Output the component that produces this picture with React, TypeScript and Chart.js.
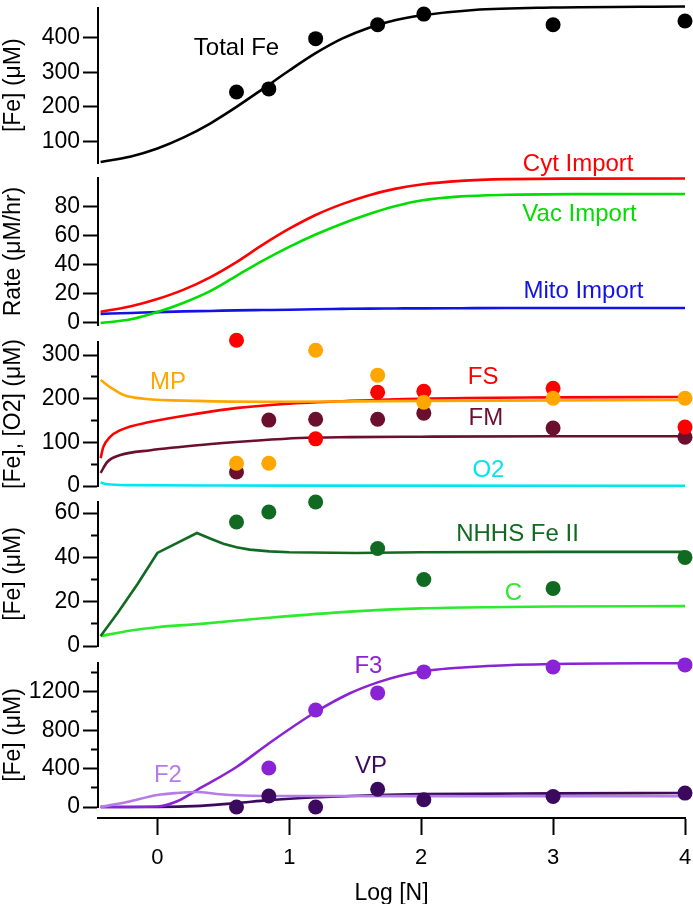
import React, { useEffect, useRef } from 'react';
import { Chart, registerables } from 'chart.js';

Chart.register(...registerables);

const FONT = "'Liberation Sans', Arial, Helvetica, sans-serif";
Chart.defaults.font.family = FONT;
Chart.defaults.color = '#000';

const W = 693;
const H = 904;
const X_MIN = -0.45;
const X_MAX = 4;
const PLOT_LEFT = 98;
const PLOT_RIGHT = 685;
const X_AXIS_Y = 818;

// x (Log [N]) of the measured samples
const ptX = [0.6, 0.845, 1.2, 1.67, 2.02, 3, 4];
const xTicks = [0, 1, 2, 3, 4];

// Panel 1 : Total Fe
const totalFeX = [-0.43, -0.2, 0, 0.2, 0.4, 0.6, 0.8, 1.0, 1.2, 1.4, 1.6, 1.8, 2.0, 2.4, 3.0, 4.0];
const totalFeY = [41, 57, 80, 112, 152, 200, 252, 305, 355, 397, 428, 450, 464, 480, 487, 490];
const totalFePts = [243, 252, 397, 437, 468, 437, 448];
const p1Major = [100, 200, 300, 400];

// Panel 2 : rates
const rateX = [-0.43, -0.2, 0, 0.2, 0.4, 0.6, 0.8, 1.0, 1.2, 1.4, 1.6, 1.8, 2.0, 2.3, 2.65, 3.15, 4];
const cytImport = [7.8, 11.5, 16.5, 23, 31.5, 42, 54, 65, 74.5, 82, 88, 92.5, 95.5, 98, 99.2, 99.6, 99.7];
const vacImport = [0, 2.5, 7.5, 14, 22, 32.5, 43, 52.5, 61, 68.5, 75, 80.5, 84.5, 87.3, 88.4, 88.9, 89];
const mitoImport = [6.3, 6.9, 7.5, 8.0, 8.3, 8.7, 8.9, 9.1, 9.5, 9.7, 9.9, 10.0, 10.1, 10.2, 10.3, 10.3, 10.3];
const p2Major = [0, 20, 40, 60, 80];

// Panel 3 : MP, FS, FM, O2
const mpX = [-0.43, -0.35, -0.25, -0.1, 0.3, 0.85, 1.5, 2, 3, 4];
const mpY = [243, 225, 208, 200, 195, 193, 194, 195, 196, 197];
const fsX = [-0.43, -0.41, -0.36, -0.28, -0.05, 0.33, 0.61, 0.96, 1.46, 2, 3, 4];
const fsY = [64, 89, 112, 128, 147, 167, 179, 188, 195, 200, 203, 204];
const fmX = [-0.43, -0.38, -0.28, -0.05, 0.33, 0.71, 1.08, 1.46, 2, 3, 4];
const fmY = [30, 55, 71, 82, 94, 103, 110, 112, 113, 114, 114];
const o2X = [-0.43, -0.38, -0.2, 0.5, 1, 4];
const o2Y = [8, 4, 2, 1, 0.8, 0.5];
const fsPts = [334, null, 108, 215, 217, 224, 135];
const fmPts = [32, 151, 153, 153, 167, 133, 112];
const mpPts = [52, 52, 311, 254, 192, 201, 201];
const p3Major = [0, 100, 200, 300];
const p3Minor = [50, 150, 250];

// Panel 4 : NHHS Fe II, C
const nhhsX = [-0.43, -0.3, -0.15, 0, 0.3, 0.4, 0.5, 0.6, 0.7, 0.85, 1.0, 1.5, 2, 3, 4];
const nhhsY = [4.5, 15, 28, 42, 51, 48.5, 46.2, 44.6, 43.5, 42.7, 42.3, 42, 42.3, 42.5, 42.5];
const cX = [-0.43, -0.2, 0, 0.33, 0.8, 1.46, 2, 2.65, 3, 4];
const cY = [4.5, 7, 8.5, 10, 12.5, 15.5, 17, 17.6, 17.8, 18];
const nhhsPts = [56, 60.5, 65, 44, 30, 26, 40];
const p4Major = [0, 20, 40, 60];
const p4Minor = [10, 30, 50];

// Panel 5 : F3, F2, VP
const f3X = [-0.43, 0, 0.15, 0.3, 0.6, 0.85, 1.2, 1.46, 1.67, 1.85, 2.03, 2.5, 3, 4];
const f3Y = [0, 5, 60, 177, 417, 668, 991, 1186, 1300, 1372, 1420, 1470, 1492, 1500];
const f2X = [-0.43, -0.23, 0, 0.15, 0.3, 0.45, 0.7, 1.1, 2, 3, 4];
const f2Y = [0, 52, 125, 146, 156, 136, 118, 115, 113, 112, 112];
const vpX = [-0.43, 0, 0.33, 0.6, 0.84, 1.2, 1.46, 1.67, 2, 3, 4];
const vpY = [0, 0, 12, 40, 72, 102, 115, 125, 134, 142, 146];
const f3Pts = [null, 407, 1012, 1190, 1409, 1461, 1482];
const vpPts = [0, 115, 0, 185, 75, 110, 145];
const p5Major = [0, 400, 800, 1200];
const p5Minor = [200, 600, 1000, 1400];

const C = {
  black: '#000000',
  red: '#ff0000',
  vac: '#00dd00',
  blue: '#1212e6',
  orange: '#ffa600',
  maroon: '#6b0f2e',
  cyan: '#00e6f0',
  dkgreen: '#116a22',
  ltgreen: '#2eea2e',
  purple: '#8a22d6',
  ltpurple: '#b47ce6',
  dkpurple: '#3b0a5e',
};

type Label = { text: string; x: number; y: number; color: string };

const toPts = (xs: number[], ys: (number | null)[]) =>
  xs.map((x, i) => ({ x, y: ys[i] })).filter((p) => p.y !== null);

const curve = (label: string, xs: number[], ys: number[], color: string, straight = false) => ({
  label,
  data: toPts(xs, ys),
  borderColor: color,
  backgroundColor: color,
  borderWidth: 2.6,
  pointRadius: 0,
  cubicInterpolationMode: straight ? 'default' : 'monotone',
  tension: 0,
  clip: false,
  order: 10,
});

const markers = (label: string, ys: (number | null)[], color: string, order = 0) => ({
  label,
  data: toPts(ptX, ys),
  showLine: false,
  pointRadius: 7.5,
  pointHoverRadius: 7.5,
  pointBackgroundColor: color,
  pointBorderWidth: 0,
  borderColor: color,
  backgroundColor: color,
  clip: false,
  order,
});

type Panel = {
  top: number;
  bottom: number;
  min: number;
  max: number;
  major: number[];
  minor: number[];
  title: string;
  datasets: any[];
  labels: Label[];
};

const panels: Panel[] = [
  {
    top: 3, bottom: 163, min: 38, max: 487, major: p1Major, minor: [], title: '[Fe] (μM)',
    datasets: [markers('Total Fe pts', totalFePts, C.black), curve('Total Fe', totalFeX, totalFeY, C.black)],
    labels: [{ text: 'Total Fe', x: 0.6, y: 369, color: C.black }],
  },
  {
    top: 178, bottom: 325, min: -1.4, max: 100, major: p2Major, minor: [], title: 'Rate (μM/hr)',
    datasets: [
      curve('Cyt Import', rateX, cytImport, C.red),
      curve('Vac Import', rateX, vacImport, C.vac),
      curve('Mito Import', rateX, mitoImport, C.blue),
    ],
    labels: [
      { text: 'Cyt Import', x: 3.19, y: 109.7, color: C.red },
      { text: 'Vac Import', x: 3.2, y: 75.2, color: C.vac },
      { text: 'Mito Import', x: 3.23, y: 22.1, color: C.blue },
    ],
  },
  {
    top: 342, bottom: 486, min: 0, max: 330, major: p3Major, minor: p3Minor, title: '[Fe], [O2] (μM)',
    datasets: [
      markers('MP pts', mpPts, C.orange, 0),
      markers('FS pts', fsPts, C.red, 1),
      markers('FM pts', fmPts, C.maroon, 2),
      curve('MP', mpX, mpY, C.orange),
      curve('FS', fsX, fsY, C.red),
      curve('FM', fmX, fmY, C.maroon),
      curve('O2', o2X, o2Y, C.cyan),
    ],
    labels: [
      { text: 'MP', x: 0.08, y: 238, color: C.orange },
      { text: 'FS', x: 2.47, y: 249.6, color: C.red },
      { text: 'FM', x: 2.49, y: 155.7, color: C.maroon },
      { text: 'O2', x: 2.51, y: 36.6, color: C.cyan },
    ],
  },
  {
    top: 502, bottom: 646, min: 0, max: 65, major: p4Major, minor: p4Minor, title: '[Fe] (μM)',
    datasets: [
      markers('NHHS pts', nhhsPts, C.dkgreen),
      curve('NHHS Fe II', nhhsX, nhhsY, C.dkgreen, true),
      curve('C', cX, cY, C.ltgreen),
    ],
    labels: [
      { text: 'NHHS Fe II', x: 2.73, y: 50.5, color: C.dkgreen },
      { text: 'C', x: 2.7, y: 23.9, color: C.ltgreen },
    ],
  },
  {
    top: 663, bottom: 807, min: 0, max: 1502, major: p5Major, minor: p5Minor, title: '[Fe] (μM)',
    datasets: [
      markers('VP pts', vpPts, C.dkpurple, 0),
      markers('F3 pts', f3Pts, C.purple, 1),
      curve('F2', f2X, f2Y, C.ltpurple),
      curve('F3', f3X, f3Y, C.purple),
      curve('VP', vpX, vpY, C.dkpurple),
    ],
    labels: [
      { text: 'F2', x: 0.08, y: 334, color: C.ltpurple },
      { text: 'F3', x: 1.6, y: 1471, color: C.purple },
      { text: 'VP', x: 1.62, y: 428, color: C.dkpurple },
    ],
  },
];

const textPlugin = (labels: Label[]) => ({
  id: 'panelText',
  afterDatasetsDraw(chart: any) {
    const { ctx, scales } = chart;
    ctx.save();
    ctx.font = `24px ${FONT}`;
    ctx.textAlign = 'center';
    ctx.textBaseline = 'middle';
    for (const l of labels) {
      ctx.fillStyle = l.color;
      ctx.fillText(l.text, scales.x.getPixelForValue(l.x), scales.y.getPixelForValue(l.y));
    }
    ctx.restore();
  },
});

const isMinor = (minor: number[], c: any) => !!(c && c.tick && minor.includes(c.tick.value));

function makePanel(canvas: HTMLCanvasElement, p: Panel) {
  return new Chart(canvas, {
    type: 'line',
    data: { datasets: p.datasets },
    plugins: [textPlugin(p.labels)],
    options: {
      animation: false,
      responsive: false,
      events: [],
      layout: { padding: { top: p.top, bottom: H - p.bottom, left: 0, right: W - PLOT_RIGHT } },
      plugins: { legend: { display: false }, tooltip: { enabled: false } },
      scales: {
        x: { type: 'linear', min: X_MIN, max: X_MAX, display: false },
        y: {
          type: 'linear',
          position: 'left',
          min: p.min,
          max: p.max,
          afterFit: (s: any) => {
            s.width = PLOT_LEFT;
            s.paddingTop = 0;
            s.paddingBottom = 0;
          },
          afterBuildTicks: (s: any) => {
            s.ticks = [...p.major, ...p.minor].sort((a, b) => a - b).map((v) => ({ value: v }));
          },
          ticks: {
            font: { size: 23 },
            color: '#000',
            padding: 3,
            autoSkip: false,
            callback: (v: any) => (p.major.includes(v) ? String(v) : ''),
          },
          grid: {
            display: true,
            drawOnChartArea: false,
            drawTicks: true,
            tickLength: 15,
            tickWidth: 2,
            tickColor: '#000',
            tickBorderDash: (c: any) => (isMinor(p.minor, c) ? [7, 8] : []),
            tickBorderDashOffset: (c: any) => (isMinor(p.minor, c) ? 7 : 0),
          },
          border: { display: true, color: '#000', width: 2 },
          title: { display: true, text: p.title, font: { size: 23 }, color: '#000', padding: 0 },
        },
      },
    } as any,
  });
}

function makeXAxis(canvas: HTMLCanvasElement) {
  return new Chart(canvas, {
    type: 'line',
    data: { datasets: [] },
    options: {
      animation: false,
      responsive: false,
      events: [],
      layout: { padding: { top: X_AXIS_Y - 10, bottom: 0, left: PLOT_LEFT, right: W - PLOT_RIGHT } },
      plugins: { legend: { display: false }, tooltip: { enabled: false } },
      scales: {
        x: {
          type: 'linear',
          position: 'bottom',
          min: X_MIN,
          max: X_MAX,
          afterFit: (s: any) => {
            s.height = H - X_AXIS_Y;
            s.paddingLeft = 0;
            s.paddingRight = 0;
          },
          afterBuildTicks: (s: any) => {
            s.ticks = xTicks.map((v) => ({ value: v }));
          },
          ticks: { font: { size: 22 }, color: '#000', padding: 10, autoSkip: false, maxRotation: 0, callback: (v: any) => String(v) },
          grid: { display: true, drawOnChartArea: false, drawTicks: true, tickLength: 17, tickWidth: 2, tickColor: '#000' },
          border: { display: true, color: '#000', width: 2 },
          title: { display: true, text: 'Log [N]', font: { size: 23 }, color: '#000', padding: { top: 0, bottom: -3 } },
        },
        y: { display: false, min: 0, max: 1 },
      },
    } as any,
  });
}

function Layer({ build }: { build: (c: HTMLCanvasElement) => Chart }) {
  const ref = useRef<HTMLCanvasElement>(null);
  useEffect(() => {
    const chart = build(ref.current as HTMLCanvasElement);
    return () => chart.destroy();
  }, []);
  return (
    <canvas
      ref={ref}
      width={W}
      height={H}
      style={{ position: 'absolute', left: 0, top: 0, width: W, height: H, pointerEvents: 'none' }}
    />
  );
}

export default function App() {
  return (
    <div style={{ position: 'absolute', left: 0, top: 0, width: W, height: H, background: '#fff' }}>
      {panels.map((p, i) => (
        <Layer key={i} build={(c) => makePanel(c, p)} />
      ))}
      <Layer build={makeXAxis} />
    </div>
  );
}
